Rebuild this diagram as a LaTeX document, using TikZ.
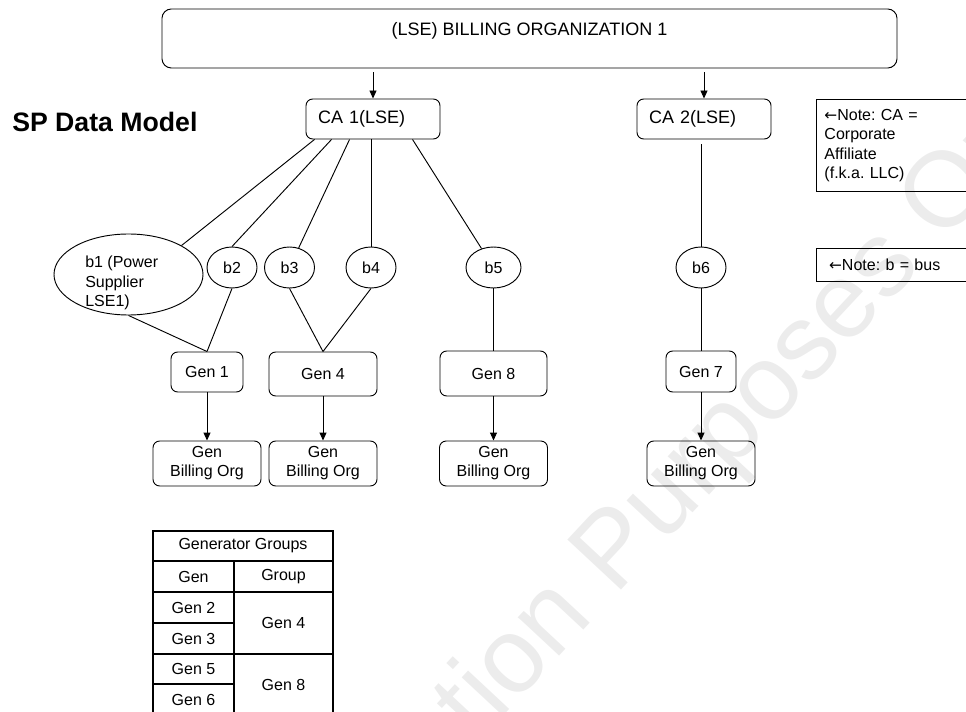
\documentclass[tikz,border=0pt]{standalone}
\usepackage{fontspec}
\setmainfont{Liberation Sans}
\newfontfamily\arrowfont{DejaVu Sans}
\usetikzlibrary{arrows.meta, calc, shapes.geometric}
\newcommand{\larr}{{\arrowfont\fontsize{11.5}{14.5}\selectfont ←}}
\frenchspacing

\begin{document}
\begin{tikzpicture}[x=0.75pt, y=-0.75pt,
  ln/.style={line width=0.7pt},
  arr/.style={-{Triangle[length=6pt,width=5.25pt]}, line width=0.7pt},
  topbox/.style={rectangle, draw, line width=0.7pt, rounded corners=7pt,
                 minimum width=551.25pt, minimum height=44.25pt,
                 text height=10pt, text depth=13.75pt,
                 font=\fontsize{13.5}{16}\selectfont},
  cabox/.style={rectangle, draw, line width=0.7pt, rounded corners=5pt,
                minimum height=30pt, text width=82.5pt, inner xsep=9pt,
                align=left, font=\fontsize{13.5}{16}\selectfont},
  bus/.style={ellipse, draw, line width=0.7pt, inner sep=0pt,
              minimum width=37.5pt, minimum height=30.75pt,
              font=\fontsize{12}{14.5}\selectfont},
  genbox/.style={rectangle, draw, line width=0.7pt, rounded corners=5pt,
                 minimum width=54pt, minimum height=30pt, align=center,
                 font=\fontsize{12}{14.25}\selectfont},
  gbo/.style={genbox, minimum width=81pt, minimum height=33.75pt},
  notebox/.style={rectangle, draw, line width=0.7pt, anchor=north west,
                  minimum width=127.5pt, align=left,
                  font=\fontsize{12}{14.5}\selectfont},
  cell/.style={inner sep=0pt, font=\fontsize{12}{14.5}\selectfont},
  tbl/.style={line width=1pt}
]
\useasboundingbox (0,0) rectangle (966,712);
\node[rotate=47, text=gray!15, font=\fontsize{80}{84}\selectfont] (wm) at (658,510) {Illustration Purposes Only};

\node[topbox] (org) at (529.5,38.5) {(LSE) BILLING ORGANIZATION 1};
\node[cabox] (ca1) at (373,119) {CA 1(LSE)};
\node[cabox] (ca2) at (704,119) {CA 2(LSE)};
\node[anchor=base west, inner sep=0pt, font=\fontsize{20}{24}\selectfont\bfseries] (title) at (12,132) {SP Data Model};
\node[notebox, minimum height=69pt, inner xsep=6pt, text width=115.5pt] (noteca) at (816,99) {\larr Note: CA =\\Corporate\\Affiliate\\(f.k.a. LLC)};
\node[notebox, minimum height=24.75pt, inner xsep=9.5pt, text width=108.5pt] (noteb) at (816,248) {\larr Note: b = bus};

\node[bus, minimum width=111.75pt, minimum height=60.75pt] (b1) at (128.5,274.5) {};
\node[cell, anchor=north west, align=left] (b1txt) at (85,256) {b1 (Power\\Supplier\\LSE1)};
\node[bus] (b2) at (232,267.5) {b2};
\node[bus] (b3) at (289.5,267.5) {b3};
\node[bus] (b4) at (371,267.5) {b4};
\node[bus, minimum width=41.25pt] (b5) at (493.5,267.5) {b5};
\node[bus] (b6) at (701,267.5) {b6};

\node[genbox] (gen1) at (207,372) {Gen 1};
\node[genbox, minimum width=81pt, minimum height=33pt] (gen4) at (323,374) {Gen 4};
\node[genbox, minimum width=80.25pt, minimum height=33.75pt] (gen8) at (493.5,373.5) {Gen 8};
\node[genbox, minimum width=52.5pt, minimum height=30.75pt] (gen7) at (701,371.5) {Gen 7};
\foreach \n/\x in {1/207, 4/323, 8/493.5, 7/701}
  \node[gbo] (gbo\n) at (\x,463.5) {Gen\\Billing Org};

\draw[arr, shorten <=3pt] (org.south -| ca1.north) -- (ca1.north);
\draw[arr, shorten <=3pt] (org.south -| ca2.north) -- (ca2.north);
\draw[ln] ($(ca1.south west)+(9,0)$) -- (b1.north east);
\draw[ln] ($(ca1.south west)+(26,0)$) -- (b2.north);
\draw[ln] ($(ca1.south west)+(44,0)$) -- (b3);
\draw[ln] (b4.north |- ca1.south) -- (b4.north);
\draw[ln] ($(ca1.south west)+(107,0)$) -- (b5);
\draw[ln, shorten <=3.75pt] (b6.north |- ca2.south) -- (b6.north);
\draw[ln] (b1.south) -- (gen1.north) (b2.south) -- (gen1.north);
\draw[ln] (b3.south) -- (gen4.north) (b4.south) -- (gen4.north);
\draw[ln] (b5.south) -- (gen8.north);
\draw[ln] (b6.south) -- (gen7.north);
\foreach \n in {1,4,8,7}
  \draw[arr] (gen\n.south) -- (gbo\n.north);

\draw[tbl] (153,531) rectangle (333,715);
\draw[tbl] (153,561) -- (333,561) (153,592) -- (333,592) (153,654) -- (333,654);
\draw[tbl] (234,561) -- (234,715) (153,623) -- (234,623) (153,684) -- (234,684);
\node[cell] (thead) at (243,546) {Generator Groups};
\node[cell] (tgen) at (193.5,576.5) {Gen};
\node[cell] (tgrp) at (283.5,576.5) {Group};
\foreach \g/\y in {2/607.5, 3/638.5, 5/669, 6/699.5}
  \node[cell] (t\g) at (193.5,\y) {Gen \g};
\node[cell] (tg4) at (283.5,623) {Gen 4};
\node[cell] (tg8) at (283.5,684.5) {Gen 8};
\end{tikzpicture}
\end{document}
